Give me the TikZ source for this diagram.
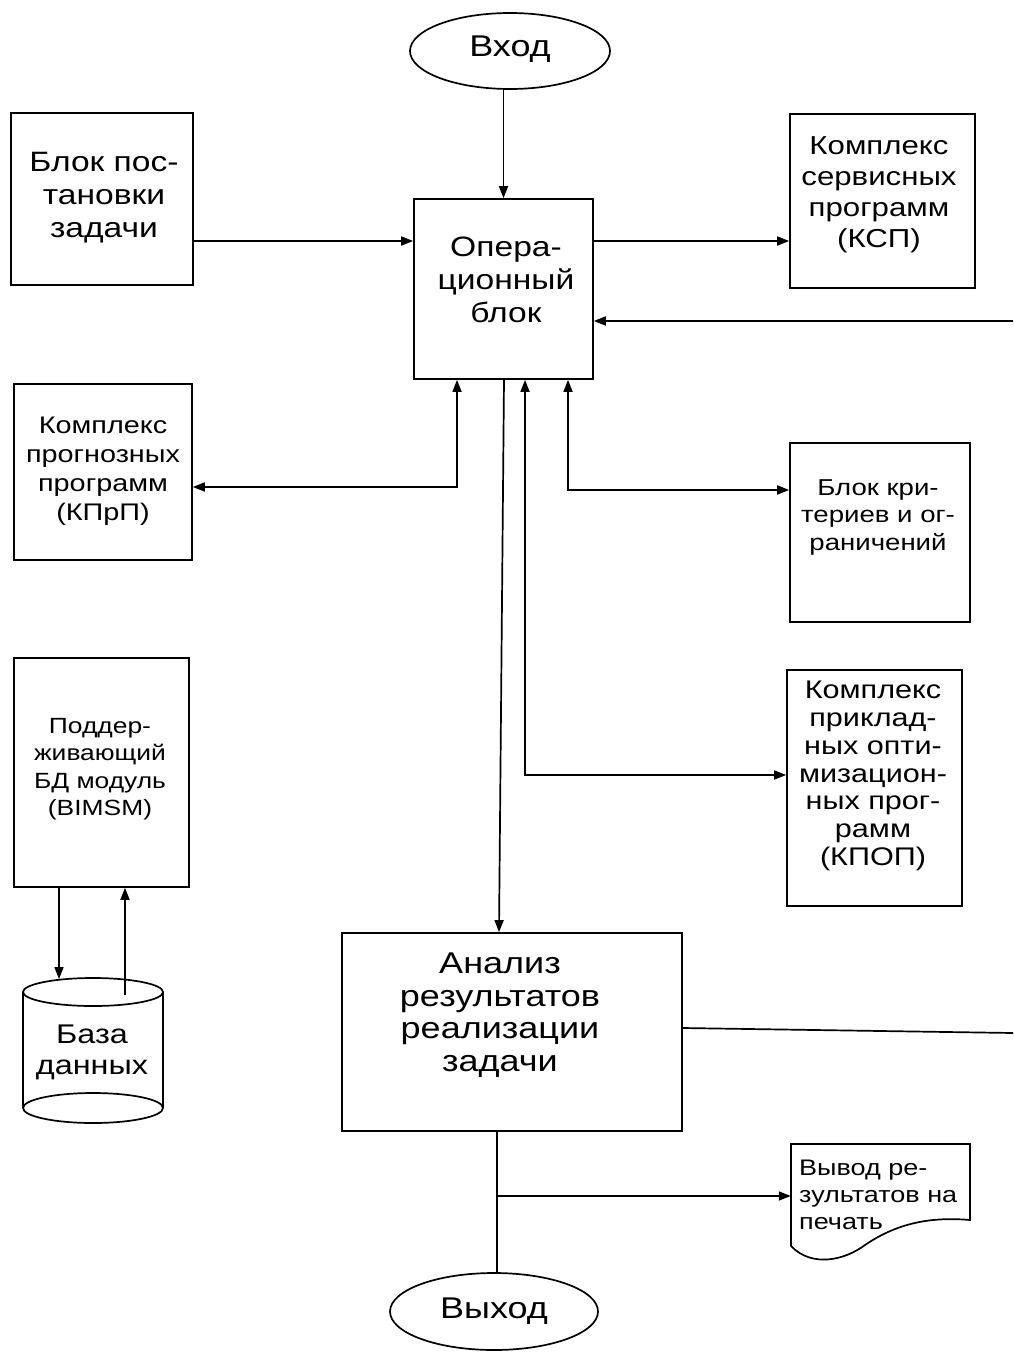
\documentclass[tikz,border=0pt]{standalone}
\usepackage{fontspec}
\setmainfont{Liberation Sans}[FakeStretch=1.2]
\usetikzlibrary{arrows.meta,calc,shapes.geometric}
\begin{document}
\begin{tikzpicture}[x=1pt,y=-1pt,
  box/.style={draw,line width=1.7pt,rectangle,inner sep=0pt},
  oval/.style={draw,line width=1.7pt,ellipse,inner sep=0pt},
  txt/.style={align=center,inner sep=0pt},
  ln/.style={line width=1.7pt},
  arr/.style={ln,-{Triangle[length=12pt,width=9pt]}},
  barr/.style={ln,{Triangle[length=12pt,width=9pt]}-{Triangle[length=12pt,width=9pt]}},
  fA/.style={font=\fontsize{30}{33}\selectfont},
  fB/.style={font=\fontsize{28}{33}\selectfont},
  fC/.style={font=\fontsize{26}{31}\selectfont},
  fD/.style={font=\fontsize{24}{29}\selectfont},
  fE/.style={font=\fontsize{23}{27.5}\selectfont},
  fF/.style={font=\fontsize{22.5}{27}\selectfont}]
\useasboundingbox[fill=white] (0,0) rectangle (1013,1354);

% ---- nodes (boxes) ----
\node[oval,minimum width=200pt,minimum height=76pt] (vhod) at (510,51) {};
\node[txt,fA] (vhodT) at (510,49) {Вход};

\node[box,minimum width=182pt,minimum height=172pt] (post) at (102,199) {};
\node[txt,fB] (postT) at (104,198) {Блок пос-\\тановки\\задачи};

\node[box,minimum width=179pt,minimum height=180pt] (op) at (503.5,289) {};
\node[txt,fB] (opT) at (506,280) {Опера-\\ционный\\блок};

\node[box,minimum width=185pt,minimum height=174pt] (ksp) at (882.5,201) {};
\node[txt,fC] (kspT) at (879,195) {Комплекс\\сервисных\\программ\\(КСП)};

\node[box,minimum width=178pt,minimum height=176pt] (kprp) at (103,472) {};
\node[txt,fD] (kprpT) at (103,471) {Комплекс\\прогнозных\\программ\\(КПрП)};

\node[box,minimum width=180pt,minimum height=179pt] (krit) at (880,532.5) {};
\node[txt,fE] (kritT) at (878,517) {Блок кри-\\териев и ог-\\раничений};

\node[box,minimum width=175pt,minimum height=229pt] (bimsm) at (101.5,772.5) {};
\node[txt,font=\fontsize{22}{27.5}\selectfont] (bimsmT) at (100,769) {Поддер-\\живающий\\БД модуль\\(BIMSM)};

\node[box,minimum width=175pt,minimum height=236pt] (kpop) at (874.5,788) {};
\node[txt,font=\fontsize{25.5}{27.8}\selectfont] (kpopT) at (873,776) {Комплекс\\приклад-\\ных опти-\\мизацион-\\ных прог-\\рамм\\(КПОП)};

% database cylinder
\node[inner sep=0pt,minimum width=140pt,minimum height=146pt] (db) at (93,1050) {};
\draw[ln] (93,992) ellipse [x radius=70pt,y radius=14pt];
\draw[ln] (23,992) -- (23,1108);
\draw[ln] (163,992) -- (163,1108);
\draw[ln] (93,1108) ellipse [x radius=70pt,y radius=15pt];
\node[txt,font=\fontsize{27}{31}\selectfont] (dbT) at (92,1052) {База\\данных};

\node[box,minimum width=340pt,minimum height=198pt] (anal) at (512,1032) {};
\node[txt,font=\fontsize{30}{32.5}\selectfont] (analT) at (500,1015) {Анализ\\результатов\\реализации\\задачи};

% print document
\node[inner sep=0pt,minimum width=179pt,minimum height=104pt] (doc) at (880.5,1196) {};
\draw[ln] (791,1144) -- (970,1144) -- (970,1220)
  .. controls (925,1216) and (893,1226) .. (865,1245)
  .. controls (845,1260) and (812,1268) .. (791,1246) -- cycle;
\node[txt,fF,align=left,anchor=west] (docT) at (799,1195) {Вывод ре-\\зультатов на\\печать};

\node[oval,minimum width=208pt,minimum height=77pt] (vyhod) at (494,1311.5) {};
\node[txt,fA] (vyhodT) at (494,1311) {Выход};

% ---- helper coordinates ----
\coordinate (c241) at (0,241);
\coordinate (fbR) at (1013,321);
\coordinate (k1) at (457,487);
\coordinate (k2) at (568,490);
\coordinate (k3) at (525,775);
\coordinate (k4) at (504,0);
\coordinate (k5) at (499,0);
\coordinate (fbA0) at (0,1028);
\coordinate (fbA) at (1013,1033);
\coordinate (k6) at (497,0);
\coordinate (br) at (497,1196);
\coordinate (dbIn) at (59,979);
\coordinate (dbOut) at (125,995);

% ---- connectors ----
\draw[arr] (op.north |- vhod.south) -- (op.north);
\draw[arr] (post.east |- c241) -- (op.west |- c241);
\draw[arr] (op.east |- c241) -- (ksp.west |- c241);
\draw[arr] (fbR) -- (op.east |- fbR);
\draw[barr] (kprp.east |- k1) -| (op.south -| k1);
\draw[barr] (op.south -| k2) |- (krit.west |- k2);
\draw[barr] (op.south -| k3) |- (kpop.west |- k3);
\draw[arr] (op.south -| k4) -- (anal.north -| k5);
\draw[ln] (anal.east |- fbA0) -- (fbA);
\draw[ln] (anal.south -| k6) -- (vyhod.north -| k6);
\draw[arr] (br) -- (doc.west);
\draw[arr] (bimsm.south -| dbIn) -- (dbIn);
\draw[arr] (dbOut) -- (bimsm.south -| dbOut);
\end{tikzpicture}
\end{document}
